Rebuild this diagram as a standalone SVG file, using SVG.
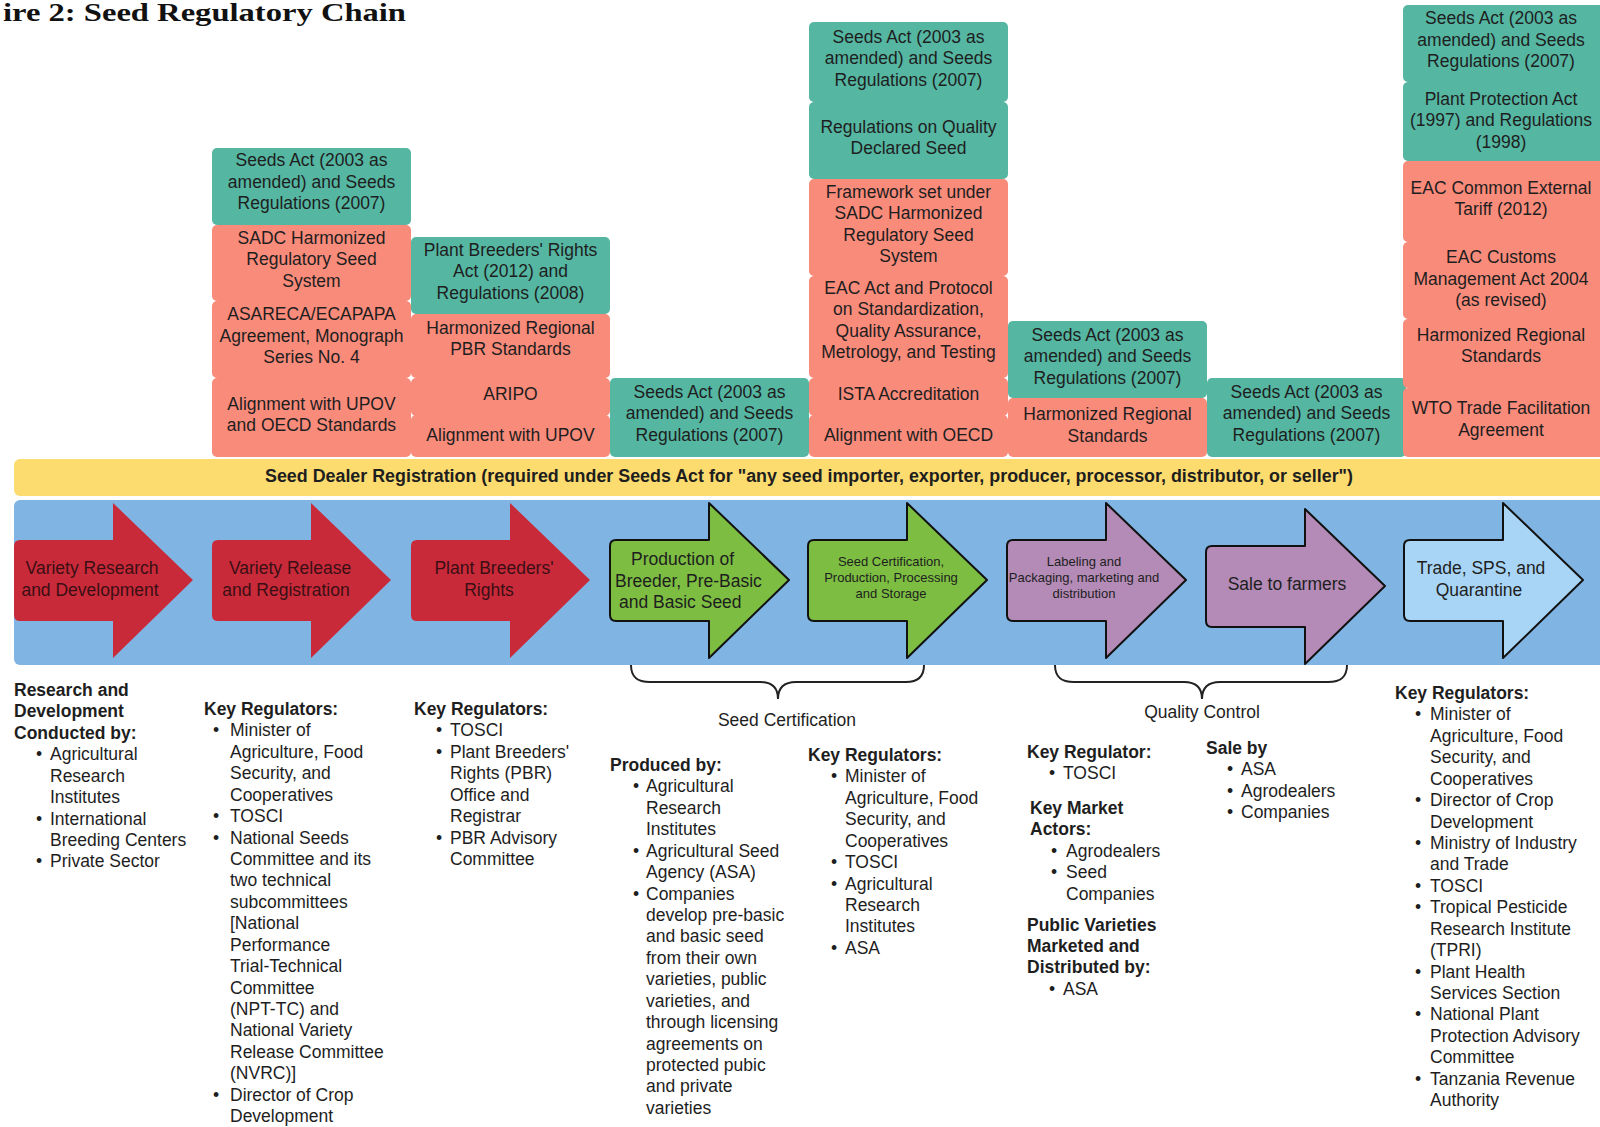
<svg xmlns="http://www.w3.org/2000/svg" width="1600" height="1127" viewBox="0 0 1600 1127">
<style>
.t{font-family:"Liberation Sans",Arial,sans-serif;font-size:17.5px;fill:#1e1e1e}
.c{text-anchor:middle}
.b{font-weight:bold}
.teal{fill:#55b6a2}
.sal{fill:#f98b7b}
.red{fill:#c92a3a}
.grn{fill:#7cbd42;stroke:#111;stroke-width:2;stroke-linejoin:round}
.pur{fill:#b38bb6;stroke:#111;stroke-width:2;stroke-linejoin:round}
.lb{fill:#a8d5f6;stroke:#111;stroke-width:2;stroke-linejoin:round}
.rt{fill:#3a0f14}
.sm{font-size:13px}
.br{fill:none;stroke:#222;stroke-width:2}
</style>
<rect width="1600" height="1127" fill="#fff"/>
<text x="3" y="21" font-family="Liberation Serif,serif" font-weight="bold" font-size="26" fill="#111" textLength="403" lengthAdjust="spacingAndGlyphs">ire 2: Seed Regulatory Chain</text>

<!-- column 1 -->
<g id="c1b1"><rect class="teal" x="212" y="148" width="199" height="77" rx="5"/><text class="t c"><tspan x="311.5" y="166">Seeds Act (2003 as</tspan><tspan x="311.5" y="188">amended) and Seeds</tspan><tspan x="311.5" y="209">Regulations (2007)</tspan></text></g>
<g id="c1b2"><rect class="sal" x="212" y="225" width="199" height="76" rx="5"/><text class="t c"><tspan x="311.5" y="244">SADC Harmonized</tspan><tspan x="311.5" y="265">Regulatory Seed</tspan><tspan x="311.5" y="287">System</tspan></text></g>
<g id="c1b3"><rect class="sal" x="212" y="301" width="199" height="77" rx="5"/><text class="t c"><tspan x="311.5" y="320">ASARECA/ECAPAPA</tspan><tspan x="311.5" y="342">Agreement, Monograph</tspan><tspan x="311.5" y="363">Series No. 4</tspan></text></g>
<g id="c1b4"><rect class="sal" x="212" y="378" width="199" height="79" rx="5"/><text class="t c"><tspan x="311.5" y="410">Alignment with UPOV</tspan><tspan x="311.5" y="431">and OECD Standards</tspan></text></g>
<!-- column 2 -->
<g id="c2b1"><rect class="teal" x="411" y="237" width="199" height="77" rx="5"/><text class="t c"><tspan x="510.5" y="256">Plant Breeders' Rights</tspan><tspan x="510.5" y="277">Act (2012) and</tspan><tspan x="510.5" y="299">Regulations (2008)</tspan></text></g>
<g id="c2b2"><rect class="sal" x="411" y="314" width="199" height="64" rx="5"/><text class="t c"><tspan x="510.5" y="334">Harmonized Regional</tspan><tspan x="510.5" y="355">PBR Standards</tspan></text></g>
<g id="c2b3"><rect class="sal" x="411" y="378" width="199" height="38" rx="5"/><text class="t c" x="510.5" y="400">ARIPO</text></g>
<g id="c2b4"><rect class="sal" x="411" y="415" width="199" height="42" rx="5"/><text class="t c" x="510.5" y="441">Alignment with UPOV</text></g>
<!-- column 3 -->
<g id="c3b1"><rect class="teal" x="610" y="378" width="199" height="79" rx="5"/><text class="t c"><tspan x="709.5" y="398">Seeds Act (2003 as</tspan><tspan x="709.5" y="419">amended) and Seeds</tspan><tspan x="709.5" y="441">Regulations (2007)</tspan></text></g>
<!-- column 4 -->
<g id="c4b1"><rect class="teal" x="809" y="22" width="199" height="80" rx="5"/><text class="t c"><tspan x="908.5" y="43">Seeds Act (2003 as</tspan><tspan x="908.5" y="64">amended) and Seeds</tspan><tspan x="908.5" y="86">Regulations (2007)</tspan></text></g>
<g id="c4b2"><rect class="teal" x="809" y="102" width="199" height="77" rx="5"/><text class="t c"><tspan x="908.5" y="133">Regulations on Quality</tspan><tspan x="908.5" y="154">Declared Seed</tspan></text></g>
<g id="c4b3"><rect class="sal" x="809" y="179" width="199" height="97" rx="5"/><text class="t c"><tspan x="908.5" y="198">Framework set under</tspan><tspan x="908.5" y="219">SADC Harmonized</tspan><tspan x="908.5" y="241">Regulatory Seed</tspan><tspan x="908.5" y="262">System</tspan></text></g>
<g id="c4b4"><rect class="sal" x="809" y="276" width="199" height="102" rx="5"/><text class="t c"><tspan x="908.5" y="294">EAC Act and Protocol</tspan><tspan x="908.5" y="315">on Standardization,</tspan><tspan x="908.5" y="337">Quality Assurance,</tspan><tspan x="908.5" y="358">Metrology, and Testing</tspan></text></g>
<g id="c4b5"><rect class="sal" x="809" y="378" width="199" height="38" rx="5"/><text class="t c" x="908.5" y="400">ISTA Accreditation</text></g>
<g id="c4b6"><rect class="sal" x="809" y="415" width="199" height="42" rx="5"/><text class="t c" x="908.5" y="441">Alignment with OECD</text></g>
<!-- column 5 -->
<g id="c5b1"><rect class="teal" x="1008" y="321" width="199" height="77" rx="5"/><text class="t c"><tspan x="1107.5" y="341">Seeds Act (2003 as</tspan><tspan x="1107.5" y="362">amended) and Seeds</tspan><tspan x="1107.5" y="384">Regulations (2007)</tspan></text></g>
<g id="c5b2"><rect class="sal" x="1008" y="398" width="199" height="59" rx="5"/><text class="t c"><tspan x="1107.5" y="420">Harmonized Regional</tspan><tspan x="1107.5" y="442">Standards</tspan></text></g>
<!-- column 6 -->
<g id="c6b1"><rect class="teal" x="1207" y="378" width="199" height="79" rx="5"/><text class="t c"><tspan x="1306.5" y="398">Seeds Act (2003 as</tspan><tspan x="1306.5" y="419">amended) and Seeds</tspan><tspan x="1306.5" y="441">Regulations (2007)</tspan></text></g>
<!-- column 7 -->
<g id="c7b1"><rect class="teal" x="1403" y="5" width="205" height="77" rx="5"/><text class="t c"><tspan x="1501" y="24">Seeds Act (2003 as</tspan><tspan x="1501" y="46">amended) and Seeds</tspan><tspan x="1501" y="67">Regulations (2007)</tspan></text></g>
<g id="c7b2"><rect class="teal" x="1403" y="82" width="205" height="79" rx="5"/><text class="t c"><tspan x="1501" y="105">Plant Protection Act</tspan><tspan x="1501" y="126">(1997) and Regulations</tspan><tspan x="1501" y="148">(1998)</tspan></text></g>
<g id="c7b3"><rect class="sal" x="1403" y="161" width="205" height="81" rx="5"/><text class="t c"><tspan x="1501" y="194">EAC Common External</tspan><tspan x="1501" y="215">Tariff (2012)</tspan></text></g>
<g id="c7b4"><rect class="sal" x="1403" y="242" width="205" height="77" rx="5"/><text class="t c"><tspan x="1501" y="263">EAC Customs</tspan><tspan x="1501" y="285">Management Act 2004</tspan><tspan x="1501" y="306">(as revised)</tspan></text></g>
<g id="c7b5"><rect class="sal" x="1403" y="319" width="205" height="69" rx="5"/><text class="t c"><tspan x="1501" y="341">Harmonized Regional</tspan><tspan x="1501" y="362">Standards</tspan></text></g>
<g id="c7b6"><rect class="sal" x="1403" y="388" width="205" height="69" rx="5"/><text class="t c"><tspan x="1501" y="414">WTO Trade Facilitation</tspan><tspan x="1501" y="436">Agreement</tspan></text></g>

<!-- yellow bar -->
<g id="dealer"><rect x="14" y="459" width="1600" height="37" rx="6" fill="#fcdc6f"/><text class="t b c" x="809" y="482" font-size="16" textLength="1088" lengthAdjust="spacingAndGlyphs">Seed Dealer Registration (required under Seeds Act for "any seed importer, exporter, producer, processor, distributor, or seller")</text></g>

<!-- blue band -->
<g id="band"><rect x="14" y="500" width="1600" height="165" rx="6" fill="#80b4e2"/></g>

<!-- arrows -->
<g id="a1"><path class="red" d="M20,540 H113 V503 L193,580 L113,658 V621 H20 Q14,621 14,615 V546 Q14,540 20,540 Z"/><text class="t c rt"><tspan x="92" y="574">Variety Research</tspan><tspan x="90" y="596">and Development</tspan></text></g>
<g id="a2"><path class="red" d="M218,540 H311 V503 L391,580 L311,658 V621 H218 Q212,621 212,615 V546 Q212,540 218,540 Z"/><text class="t c rt"><tspan x="290" y="574">Variety Release</tspan><tspan x="286" y="596">and Registration</tspan></text></g>
<g id="a3"><path class="red" d="M417,540 H510 V503 L590,580 L510,658 V621 H417 Q411,621 411,615 V546 Q411,540 417,540 Z"/><text class="t c rt"><tspan x="494" y="574">Plant Breeders'</tspan><tspan x="489" y="596">Rights</tspan></text></g>
<g id="a4"><path class="grn" d="M616,540 H709 V503 L789,580 L709,658 V621 H616 Q610,621 610,615 V546 Q610,540 616,540 Z"/><text class="t"><tspan x="631" y="565">Production of</tspan><tspan x="615" y="587">Breeder, Pre-Basic</tspan><tspan x="619" y="608">and Basic Seed</tspan></text></g>
<g id="a5"><path class="grn" d="M814,540 H907 V503 L987,580 L907,658 V621 H814 Q808,621 808,615 V546 Q808,540 814,540 Z"/><text class="t c sm"><tspan x="891" y="566">Seed Certification,</tspan><tspan x="891" y="582">Production, Processing</tspan><tspan x="891" y="598">and Storage</tspan></text></g>
<g id="a6"><path class="pur" d="M1013,540 H1106 V503 L1186,580 L1106,658 V621 H1013 Q1007,621 1007,615 V546 Q1007,540 1013,540 Z"/><text class="t c sm"><tspan x="1084" y="566">Labeling and</tspan><tspan x="1084" y="582">Packaging, marketing and</tspan><tspan x="1084" y="598">distribution</tspan></text></g>
<g id="a7"><path class="pur" d="M1212,546 H1305 V509 L1385,586 L1305,664 V627 H1212 Q1206,627 1206,621 V552 Q1206,546 1212,546 Z"/><text class="t c" x="1287" y="590">Sale to farmers</text></g>
<g id="a8"><path class="lb" d="M1410,540 H1503 V503 L1583,580 L1503,658 V621 H1410 Q1404,621 1404,615 V546 Q1404,540 1410,540 Z"/><text class="t c"><tspan x="1481" y="574">Trade, SPS, and</tspan><tspan x="1479" y="596">Quarantine</tspan></text></g>

<!-- connectors (braces) -->
<g id="connectors">
<path class="br" d="M631,665 C631,677 637,682 650,682 H760 C772,682 778,688 778,699 C778,688 784,682 796,682 H906 C918,682 924,677 924,665"/>
<path class="br" d="M1055,665 C1055,677 1061,682 1074,682 H1184 C1196,682 1202,688 1202,699 C1202,688 1208,682 1220,682 H1328 C1341,682 1347,677 1347,665"/>
</g>
<g id="lbl-cert"><text class="t c" x="787" y="726">Seed Certification</text></g>
<g id="lbl-qc"><text class="t c" x="1202" y="718">Quality Control</text></g>

<!-- bottom text columns -->
<g id="colA"><text class="t">
<tspan class="b" x="14" y="696">Research and</tspan>
<tspan class="b" x="14" y="717.4">Development</tspan>
<tspan class="b" x="14" y="738.9">Conducted by:</tspan>
<tspan x="36" y="760.3">•</tspan><tspan x="50" y="760.3">Agricultural</tspan>
<tspan x="50" y="781.7">Research</tspan>
<tspan x="50" y="803.1">Institutes</tspan>
<tspan x="36" y="824.6">•</tspan><tspan x="50" y="824.6">International</tspan>
<tspan x="50" y="846">Breeding Centers</tspan>
<tspan x="36" y="867.4">•</tspan><tspan x="50" y="867.4">Private Sector</tspan>
</text></g>

<g id="colB"><text class="t">
<tspan class="b" x="204" y="715">Key Regulators:</tspan>
<tspan x="213" y="736.4">•</tspan><tspan x="230" y="736.4">Minister of</tspan>
<tspan x="230" y="757.9">Agriculture, Food</tspan>
<tspan x="230" y="779.3">Security, and</tspan>
<tspan x="230" y="800.7">Cooperatives</tspan>
<tspan x="213" y="822.1">•</tspan><tspan x="230" y="822.1">TOSCI</tspan>
<tspan x="213" y="843.6">•</tspan><tspan x="230" y="843.6">National Seeds</tspan>
<tspan x="230" y="865">Committee and its</tspan>
<tspan x="230" y="886.4">two technical</tspan>
<tspan x="230" y="907.9">subcommittees</tspan>
<tspan x="230" y="929.3">[National</tspan>
<tspan x="230" y="950.7">Performance</tspan>
<tspan x="230" y="972.1">Trial-Technical</tspan>
<tspan x="230" y="993.6">Committee</tspan>
<tspan x="230" y="1015">(NPT-TC) and</tspan>
<tspan x="230" y="1036.4">National Variety</tspan>
<tspan x="230" y="1057.9">Release Committee</tspan>
<tspan x="230" y="1079.3">(NVRC)]</tspan>
<tspan x="213" y="1100.7">•</tspan><tspan x="230" y="1100.7">Director of Crop</tspan>
<tspan x="230" y="1122.1">Development</tspan>
</text></g>

<g id="colC"><text class="t">
<tspan class="b" x="414" y="715">Key Regulators:</tspan>
<tspan x="436" y="736.4">•</tspan><tspan x="450" y="736.4">TOSCI</tspan>
<tspan x="436" y="757.9">•</tspan><tspan x="450" y="757.9">Plant Breeders'</tspan>
<tspan x="450" y="779.3">Rights (PBR)</tspan>
<tspan x="450" y="800.7">Office and</tspan>
<tspan x="450" y="822.1">Registrar</tspan>
<tspan x="436" y="843.6">•</tspan><tspan x="450" y="843.6">PBR Advisory</tspan>
<tspan x="450" y="865">Committee</tspan>
</text></g>

<g id="colD"><text class="t">
<tspan class="b" x="610" y="771">Produced by:</tspan>
<tspan x="633" y="792.4">•</tspan><tspan x="646" y="792.4">Agricultural</tspan>
<tspan x="646" y="813.9">Research</tspan>
<tspan x="646" y="835.3">Institutes</tspan>
<tspan x="633" y="856.7">•</tspan><tspan x="646" y="856.7">Agricultural Seed</tspan>
<tspan x="646" y="878.1">Agency (ASA)</tspan>
<tspan x="633" y="899.6">•</tspan><tspan x="646" y="899.6">Companies</tspan>
<tspan x="646" y="921">develop pre-basic</tspan>
<tspan x="646" y="942.4">and basic seed</tspan>
<tspan x="646" y="963.9">from their own</tspan>
<tspan x="646" y="985.3">varieties, public</tspan>
<tspan x="646" y="1006.7">varieties, and</tspan>
<tspan x="646" y="1028.1">through licensing</tspan>
<tspan x="646" y="1049.6">agreements on</tspan>
<tspan x="646" y="1071">protected pubic</tspan>
<tspan x="646" y="1092.4">and private</tspan>
<tspan x="646" y="1113.9">varieties</tspan>
</text></g>

<g id="colE"><text class="t">
<tspan class="b" x="808" y="761">Key Regulators:</tspan>
<tspan x="831" y="782.4">•</tspan><tspan x="845" y="782.4">Minister of</tspan>
<tspan x="845" y="803.9">Agriculture, Food</tspan>
<tspan x="845" y="825.3">Security, and</tspan>
<tspan x="845" y="846.7">Cooperatives</tspan>
<tspan x="831" y="868.1">•</tspan><tspan x="845" y="868.1">TOSCI</tspan>
<tspan x="831" y="889.6">•</tspan><tspan x="845" y="889.6">Agricultural</tspan>
<tspan x="845" y="911">Research</tspan>
<tspan x="845" y="932.4">Institutes</tspan>
<tspan x="831" y="953.9">•</tspan><tspan x="845" y="953.9">ASA</tspan>
</text></g>

<g id="colF"><text class="t">
<tspan class="b" x="1027" y="758">Key Regulator:</tspan>
<tspan x="1049" y="779.4">•</tspan><tspan x="1063" y="779.4">TOSCI</tspan>
<tspan class="b" x="1030" y="814">Key Market</tspan>
<tspan class="b" x="1030" y="835.4">Actors:</tspan>
<tspan x="1051" y="856.9">•</tspan><tspan x="1066" y="856.9">Agrodealers</tspan>
<tspan x="1051" y="878.3">•</tspan><tspan x="1066" y="878.3">Seed</tspan>
<tspan x="1066" y="899.7">Companies</tspan>
<tspan class="b" x="1027" y="930.5">Public Varieties</tspan>
<tspan class="b" x="1027" y="951.9">Marketed and</tspan>
<tspan class="b" x="1027" y="973.4">Distributed by:</tspan>
<tspan x="1049" y="994.8">•</tspan><tspan x="1063" y="994.8">ASA</tspan>
</text></g>

<g id="colG"><text class="t">
<tspan class="b" x="1206" y="754">Sale by</tspan>
<tspan x="1227" y="775.4">•</tspan><tspan x="1241" y="775.4">ASA</tspan>
<tspan x="1227" y="796.9">•</tspan><tspan x="1241" y="796.9">Agrodealers</tspan>
<tspan x="1227" y="818.3">•</tspan><tspan x="1241" y="818.3">Companies</tspan>
</text></g>

<g id="colH"><text class="t">
<tspan class="b" x="1395" y="699">Key Regulators:</tspan>
<tspan x="1415" y="720.4">•</tspan><tspan x="1430" y="720.4">Minister of</tspan>
<tspan x="1430" y="741.9">Agriculture, Food</tspan>
<tspan x="1430" y="763.3">Security, and</tspan>
<tspan x="1430" y="784.7">Cooperatives</tspan>
<tspan x="1415" y="806.1">•</tspan><tspan x="1430" y="806.1">Director of Crop</tspan>
<tspan x="1430" y="827.6">Development</tspan>
<tspan x="1415" y="849">•</tspan><tspan x="1430" y="849">Ministry of Industry</tspan>
<tspan x="1430" y="870.4">and Trade</tspan>
<tspan x="1415" y="891.9">•</tspan><tspan x="1430" y="891.9">TOSCI</tspan>
<tspan x="1415" y="913.3">•</tspan><tspan x="1430" y="913.3">Tropical Pesticide</tspan>
<tspan x="1430" y="934.7">Research Institute</tspan>
<tspan x="1430" y="956.1">(TPRI)</tspan>
<tspan x="1415" y="977.6">•</tspan><tspan x="1430" y="977.6">Plant Health</tspan>
<tspan x="1430" y="999">Services Section</tspan>
<tspan x="1415" y="1020.4">•</tspan><tspan x="1430" y="1020.4">National Plant</tspan>
<tspan x="1430" y="1041.9">Protection Advisory</tspan>
<tspan x="1430" y="1063.3">Committee</tspan>
<tspan x="1415" y="1084.7">•</tspan><tspan x="1430" y="1084.7">Tanzania Revenue</tspan>
<tspan x="1430" y="1106.1">Authority</tspan>
</text></g>
</svg>
